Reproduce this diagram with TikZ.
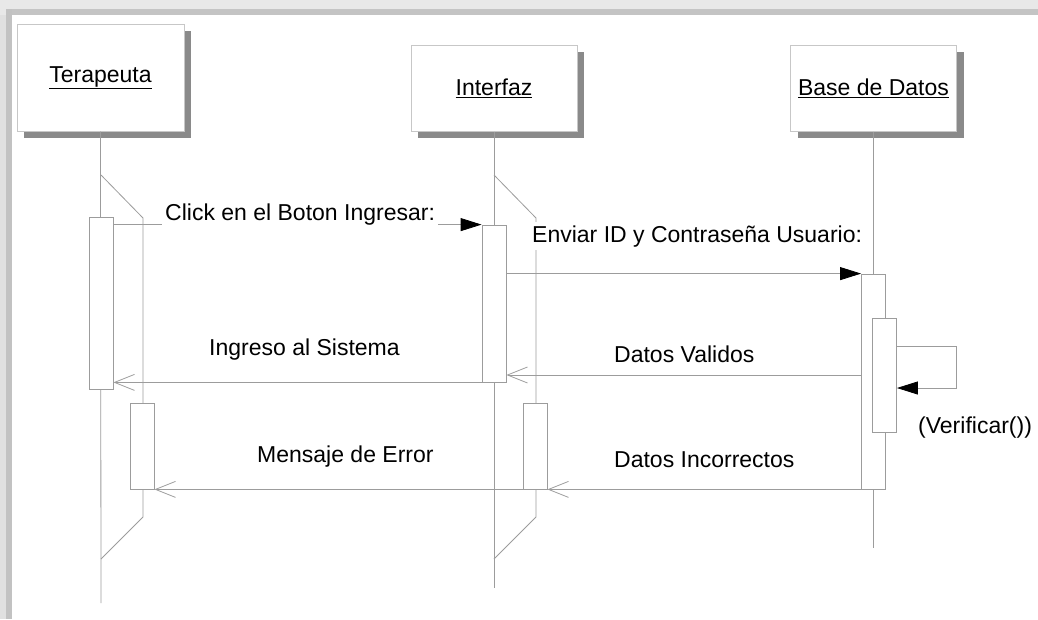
\documentclass[tikz,border=0pt]{standalone}
\usepackage{fontspec}
\setmainfont{Liberation Sans}
\usepackage{xcolor}
\usetikzlibrary{calc,positioning,arrows.meta,shadows}
\definecolor{linegray}{HTML}{9C9C9C}
\definecolor{shadowgray}{HTML}{8A8A8A}
\tikzset{
  actor/.style={
    rectangle,
    draw=black!22, fill=white, line width=1pt,
    minimum width=166pt,
    minimum height=86pt,
    drop shadow={shadow xshift=7pt, shadow yshift=-7pt, fill=shadowgray, opacity=1},
    text centered,
    font=\fontsize{23}{28}\selectfont},
  lifeline/.style={draw=linegray, line width=0.8pt},
  activ/.style={rectangle, draw=linegray, fill=white, line width=0.8pt,
    minimum width=24pt, inner sep=0pt},
  call/.style={draw=linegray, line width=0.8pt,
    -{Triangle[length=21pt,width=13pt,color=black,fill=black]}},
  reply/.style={draw=linegray, line width=0.8pt,
    -{Straight Barb[length=20pt,width=16pt]}},
  msg/.style={fill=white, inner sep=3pt, anchor=base west,
    font=\fontsize{23}{28}\selectfont},
}

\begin{document}
\begin{tikzpicture}[x=1pt, y=-1pt]
  \useasboundingbox (0,0) rectangle (1038,619);
  \fill[white] (0,0) rectangle (1038,619);
  % marco
  \fill[black!9] (0,0) rectangle (1038,15);
  \fill[black!23] (12,9) rectangle (1038,15);
  \fill[black!12] (0,15) rectangle (12,619);
  \fill[black!24] (6,9) rectangle (12,619);

  \node[actor, minimum width=167pt, minimum height=107pt] (ter) at (100.5,77.5) {\underline{Terapeuta}};
  \node[actor] (inter) at (494,88) {\underline{Interfaz}};
  \node[actor] (bd) at (873.5,88) {\underline{Base de Datos}};

  \coordinate (terend) at (101,603);
  \coordinate (interend) at (494,588);
  \coordinate (bdend) at (873.5,548);

  \draw[lifeline] (ter.south) -- (terend);
  \draw[lifeline] (inter.south) -- (interend);
  \draw[lifeline] (bd.south) -- (bdend);
  \draw[lifeline] (101,175) -- (143,218) -- (143,517) -- (101,559);
  \draw[lifeline] (494,175) -- (536,218) -- (536,517) -- (494,559);

  \node[activ, minimum height=172pt] (t1) at (101,303) {};
  \node[activ, minimum height=86pt] (t2) at (142,446) {};
  \node[activ, minimum height=157pt] (i1) at (494,303.5) {};
  \node[activ, minimum height=86pt] (i2) at (535,446) {};
  \node[activ, minimum height=215pt] (b1) at (873.5,381.5) {};
  \node[activ, minimum height=114pt] (b2) at (884.5,375) {};

  \draw[call] (t1.east |- i1.north) -- (i1.north west);
  \draw[call] (i1.east |- b1.north) -- (b1.north west);
  \draw[call] ($(b2.east)+(0,-29)$) -- ++(59,0) -- ++(0,42) -- ($(b2.east)+(0,13)$);
  \draw[reply] (b1.west |- b2.center) -- (i1.east |- b2.center);
  \draw[reply] (i1.south west) -- (t1.east |- i1.south);
  \draw[reply] (b1.south west) -- (i2.south east);
  \draw[reply] (i2.south west) -- (t2.south east);

  \node[msg] (lclick) at (162,220) {Click en el Boton Ingresar:};
  \node[msg] (lenviar) at (529,242) {Enviar ID y Contraseña Usuario:};
  \node[msg] (lingreso) at (206,355) {Ingreso al Sistema};
  \node[msg] (lvalidos) at (611,362) {Datos Validos};
  \node[msg] (lverif) at (915,433) {(Verificar())};
  \node[msg] (lerror) at (254,462) {Mensaje de Error};
  \node[msg] (lincorr) at (611,467) {Datos Incorrectos};
\end{tikzpicture}
\end{document}
